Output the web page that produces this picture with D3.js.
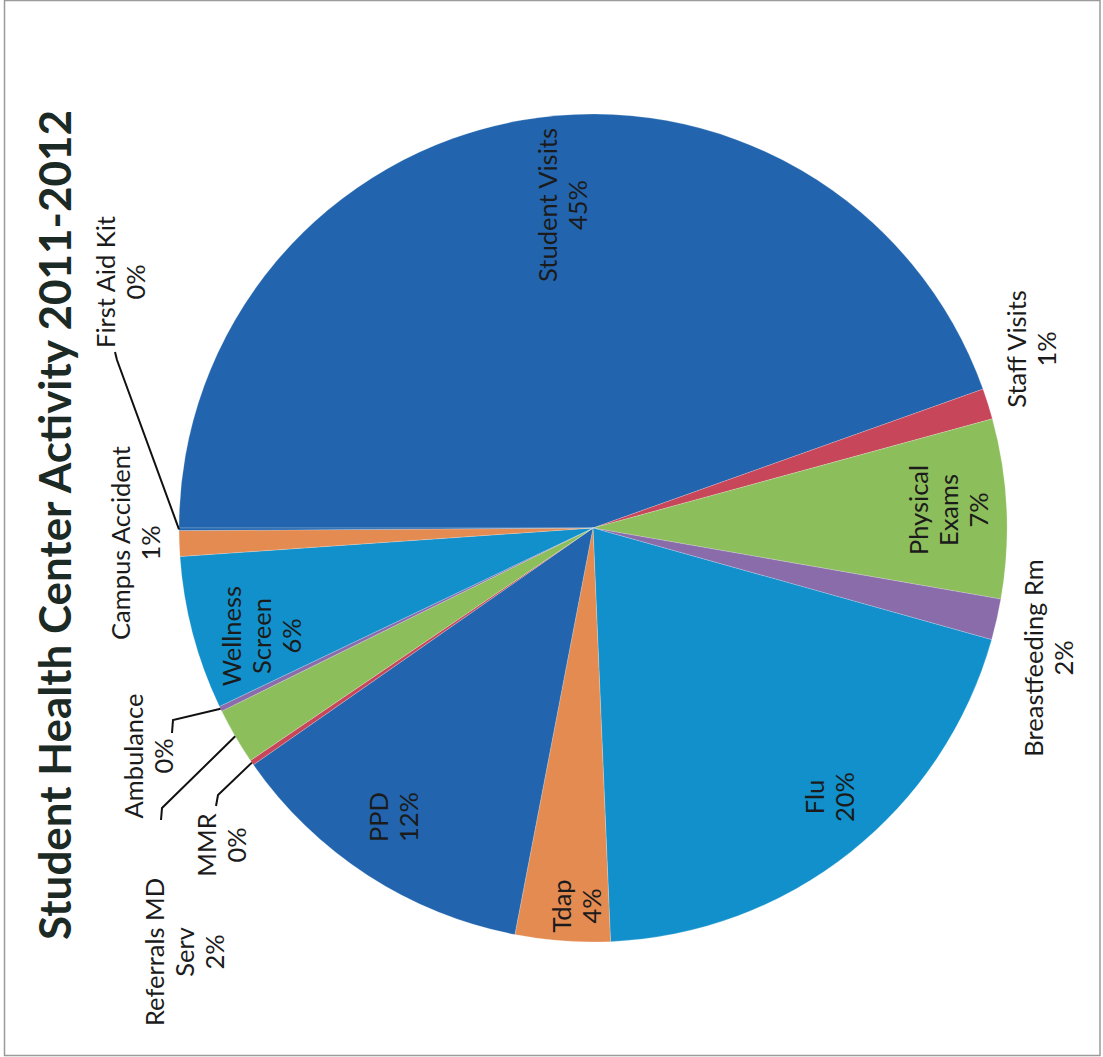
<!DOCTYPE html>
<html>
<head>
<meta charset="utf-8">
<script src="https://cdn.jsdelivr.net/npm/d3@7"></script>
<style>
  html, body { margin: 0; padding: 0; background: #fff; }
  svg { display: block; }
  text { font-family: Lato, "Open Sans", sans-serif; }
</style>
</head>
<body>
<svg id="chart" width="1103" height="1057"></svg>
<script>
// values (the page is rotated 90deg ccw)
const categories = ["Student Visits", "Staff Visits", "Physical Exams", "Breastfeeding Rm", "Flu", "Tdap",
  "PPD", "MMR", "Referrals MD Serv", "Ambulance", "Wellness Screen", "Campus Accident", "First Aid Kit"];
const shares = [44.6, 1.2, 7.0, 1.6, 20.0, 3.7, 12.3, 0.2, 2.2, 0.2, 6.0, 1.0, 0.1];
const palette = ["#2265ae", "#c8465a", "#8dbe5c", "#8a6cab", "#1190cb", "#e48b52"];
const title = "Student Health Center Activity 2011-2012";

// ---- layout ----
const W = 1103, H = 1057;
const cx = 593, cy = 528, R = 414;
const labelSize = 25.5, lineGap = 30;

// how the labels wrap
const wrap = {
  "Physical Exams": ["Physical", "Exams"],
  "Referrals MD Serv": ["Referrals MD", "Serv"],
  "Wellness Screen": ["Wellness", "Screen"]
};
// label block centres on the page (Excel placed these by hand)
const labelAt = {
  "Student Visits": [563, 205],
  "Staff Visits": [1032, 349],
  "Physical Exams": [949, 510],
  "Breastfeeding Rm": [1049, 658],
  "Flu": [830, 797],
  "Tdap": [577, 906],
  "PPD": [394, 817],
  "MMR": [222, 845],
  "Referrals MD Serv": [185, 952],
  "Ambulance": [149, 756],
  "Wellness Screen": [262, 636],
  "Campus Accident": [136, 543],
  "First Aid Kit": [121, 282]
};
// leader line bends for the tiny slices
const leaders = {
  "First Aid Kit": [[117, 360], [115, 352]],
  "Ambulance": [[173, 720], [172, 733]],
  "Referrals MD Serv": [[162, 808], [161, 820]],
  "MMR": [[218, 795], [216, 806]]
};

const svg = d3.select("#chart");

svg.append("rect")
  .attr("x", 4.5).attr("y", 0.5)
  .attr("width", 1095.5).attr("height", 1055)
  .attr("fill", "none")
  .attr("stroke", "#9a9a9a")
  .attr("stroke-width", 1.5);

const rows = categories.map((c, i) => ({ name: c, value: shares[i] }));
const total = d3.sum(shares);
const pct = d3.format(".0%");

const color = d3.scaleOrdinal().domain(categories).range(palette);

const pie = d3.pie()
  .sort(null)
  .value(d => d.value)
  .startAngle(-Math.PI / 2)
  .endAngle(1.5 * Math.PI);
const arcs = pie(rows);

const arc = d3.arc().innerRadius(0).outerRadius(R);
const rim = d3.arc().innerRadius(R).outerRadius(R);

const g = svg.append("g").attr("transform", `translate(${cx},${cy})`);
g.selectAll("path")
  .data(arcs)
  .join("path")
  .attr("d", arc)
  .attr("fill", d => color(d.data.name))
  .attr("stroke", "rgba(255,255,255,0.25)")
  .attr("stroke-width", 0.8);

// leader lines
const line = d3.line();
svg.append("g")
  .selectAll("path")
  .data(arcs.filter(d => leaders[d.data.name]))
  .join("path")
  .attr("d", d => {
    const c = rim.centroid(d);
    return line([[cx + c[0], cy + c[1]], ...leaders[d.data.name]]);
  })
  .attr("fill", "none")
  .attr("stroke", "#111")
  .attr("stroke-width", 2);

// data labels, rotated like the rest of the scan
const labels = svg.append("g")
  .selectAll("text")
  .data(arcs)
  .join("text")
  .attr("transform", d => {
    const p = labelAt[d.data.name];
    return `translate(${p[0]},${p[1]}) rotate(-90)`;
  })
  .attr("text-anchor", "middle")
  .attr("font-size", labelSize)
  .attr("fill", "#1b1b1b");

labels.each(function (d) {
  const lines = (wrap[d.data.name] || [d.data.name]).concat(pct(d.data.value / total));
  const n = lines.length;
  d3.select(this).selectAll("tspan")
    .data(lines)
    .join("tspan")
    .attr("x", 0)
    .attr("y", (t, i) => (i - (n - 1) / 2) * lineGap + labelSize * 0.36)
    .text(t => t);
});

// title
const tt = svg.append("text")
  .attr("transform", `translate(71,525) rotate(-90)`)
  .attr("text-anchor", "middle")
  .attr("font-weight", 700)
  .attr("font-size", 46)
  .attr("fill", "#1c2a25")
  .text(title);
const len = tt.node().getComputedTextLength();
tt.attr("font-size", 46 * 830 / len);
</script>
</body>
</html>
